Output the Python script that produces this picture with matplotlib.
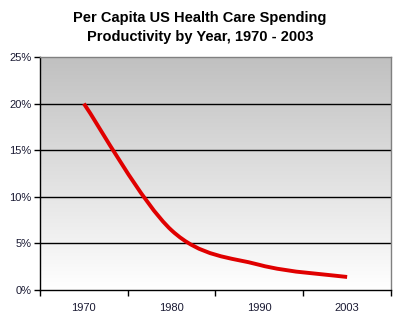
import matplotlib
matplotlib.use("Agg")
import matplotlib.pyplot as plt
import numpy as np
from matplotlib.path import Path
from matplotlib.patches import PathPatch
from matplotlib.colors import LinearSegmentedColormap

years = ["1970", "1980", "1990", "2003"]
productivity = [20.0, 6.4, 2.7, 1.4]
y_ticks = [0, 5, 10, 15, 20, 25]

plt.rcParams['font.family'] = ['Liberation Sans', 'DejaVu Sans']

fig = plt.figure(figsize=(4, 3.27), dpi=100)
ax = fig.add_axes([0.1, 0.1131, 0.8775, 0.7126])

# gradient background, grey at top to white at bottom
cmap = LinearSegmentedColormap.from_list("bg", ["#ffffff", "#c0c0c0"])
grad = np.linspace(0, 1, 256).reshape(-1, 1)
ax.imshow(grad, cmap=cmap, aspect='auto', origin='lower', extent=[0, 1, 0, 1],
          transform=ax.transAxes, zorder=0)

# smoothed line (Excel-style bezier) through the category points
x = np.arange(len(years))
pts = np.column_stack([x, productivity])
verts = [tuple(pts[0])]
codes = [Path.MOVETO]
n = len(pts)
for i in range(n - 1):
    p0 = pts[max(i - 1, 0)]
    p1 = pts[i]
    p2 = pts[i + 1]
    p3 = pts[min(i + 2, n - 1)]
    c1 = p1 + (p2 - p0) / 6.0
    c2 = p2 - (p3 - p1) / 6.0
    verts += [tuple(c1), tuple(c2), tuple(p2)]
    codes += [Path.CURVE4] * 3
patch = PathPatch(Path(verts, codes), facecolor='none', edgecolor='#e00000',
                  linewidth=2.8, zorder=3, capstyle='butt')
ax.add_patch(patch)

ax.set_xlim(-0.5, len(years) - 0.5)
ax.set_ylim(0, 25)
ax.set_yticks(y_ticks)
ax.set_yticklabels([f"{v}%" for v in y_ticks])
ax.set_xticks(x)
ax.set_xticklabels(years)
ax.set_xticks(np.arange(-0.5, len(years)), minor=True)
ax.tick_params(axis='x', which='major', length=0, pad=9)
ax.tick_params(axis='x', which='minor', length=4, width=1, direction='out', color='black')
ax.tick_params(axis='y', length=4, width=1, direction='out', pad=2)
ax.tick_params(labelsize=8, labelcolor='#1a1a33')

for v in y_ticks[1:-1]:
    ax.axhline(v, color='black', linewidth=1, zorder=2)

ax.spines['left'].set_color('black')
ax.spines['bottom'].set_color('black')
ax.spines['top'].set_color('#808080')
ax.spines['right'].set_color('#808080')
for s in ax.spines.values():
    s.set_linewidth(1)
    s.set_zorder(4)

fig.suptitle("Per Capita US Health Care Spending\nProductivity by Year, 1970 - 2003",
             fontsize=10.5, fontweight='bold', y=0.965, linespacing=1.45)

fig.savefig("out.png", dpi=100)
